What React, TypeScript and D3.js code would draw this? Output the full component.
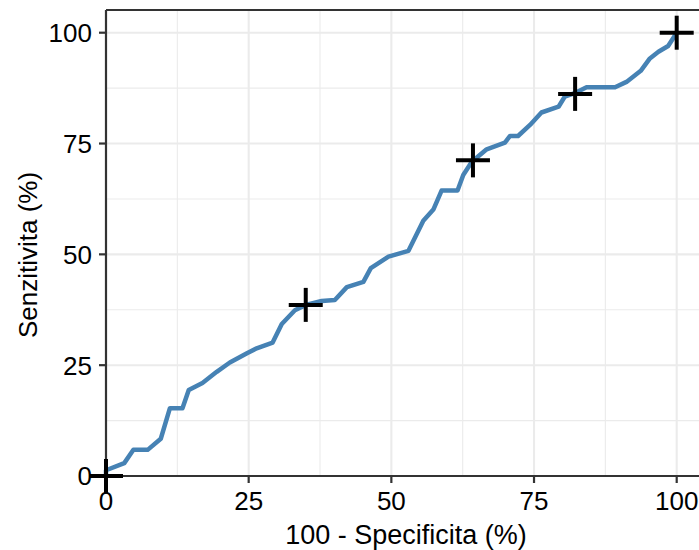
import React from "react";
import * as d3 from "d3";

const rocX = [0, 0, 3.2, 4.8, 7.3, 9.6, 11.2, 13.4, 14.5, 16.9, 19.4, 21.7, 24.7, 26.4, 29.2, 30.8, 33.1, 35.0, 37.8, 40.1, 42.2, 45.1, 46.4, 49.5, 53.0, 55.6, 57.4, 58.8, 61.6, 62.6, 64.1, 66.7, 69.9, 70.8, 72.2, 74.3, 76.3, 79.3, 80.4, 82.0, 84.2, 89.2, 91.2, 93.7, 95.3, 96.8, 98.5, 100];
const rocY = [0, 1.3, 2.9, 5.9, 5.9, 8.4, 15.3, 15.3, 19.4, 21.0, 23.5, 25.6, 27.7, 28.8, 30.1, 34.3, 37.4, 38.6, 39.5, 39.7, 42.6, 43.8, 46.9, 49.5, 50.8, 57.6, 60.2, 64.4, 64.4, 67.9, 70.9, 73.7, 75.2, 76.7, 76.7, 79.2, 82.0, 83.3, 85.6, 86.3, 87.7, 87.7, 88.9, 91.4, 94.2, 95.7, 97.0, 100];

const cutX = [0, 35.0, 64.3, 82.2, 100];
const cutY = [0, 38.6, 71.2, 86.2, 100];

const majorTicks = [0, 25, 50, 75, 100];
const minorTicks = [12.5, 37.5, 62.5, 87.5];

const xTitle = "100 - Specificita (%)";
const yTitle = "Senzitivita (%)";

export default function App() {
  const W = 699, H = 550;
  const left = 106, top = 10, bottom = 476, right = 705;
  const x = d3.scaleLinear().domain([0, 100]).range([left, 676.7]);
  const y = d3.scaleLinear().domain([0, 100]).range([bottom, 32.7]);
  const line = d3.line<number>().x((_, i) => x(rocX[i])).y((d) => y(d));
  const font = "'Liberation Sans', Arial, sans-serif";
  const arm = 17;
  return (
    <svg width={W} height={H} style={{ position: "absolute", left: 0, top: 0, display: "block", background: "#fff" }}>
      <rect x={0} y={0} width={W} height={H} fill="#fff" />
      {minorTicks.map((t) => (
        <g key={"mn" + t}>
          <line x1={x(t)} x2={x(t)} y1={top} y2={bottom} stroke="#ebebeb" strokeWidth={1.1} />
          <line x1={left} x2={right} y1={y(t)} y2={y(t)} stroke="#ebebeb" strokeWidth={1.1} />
        </g>
      ))}
      {majorTicks.map((t) => (
        <g key={"mj" + t}>
          <line x1={x(t)} x2={x(t)} y1={top} y2={bottom} stroke="#ebebeb" strokeWidth={2.1} />
          <line x1={left} x2={right} y1={y(t)} y2={y(t)} stroke="#ebebeb" strokeWidth={2.1} />
        </g>
      ))}
      <line x1={left} x2={right} y1={top} y2={top} stroke="#333" strokeWidth={2.2} />
      <line x1={left} x2={left} y1={top} y2={bottom} stroke="#333" strokeWidth={2.2} />
      <line x1={left} x2={right} y1={bottom} y2={bottom} stroke="#333" strokeWidth={2.2} />
      {majorTicks.map((t) => (
        <g key={"tk" + t}>
          <line x1={left - 7} x2={left} y1={y(t)} y2={y(t)} stroke="#333" strokeWidth={2.2} />
          <line x1={x(t)} x2={x(t)} y1={bottom} y2={bottom + 7} stroke="#333" strokeWidth={2.2} />
          <text x={92} y={y(t)} dy="0.36em" textAnchor="end" fontFamily={font} fontSize={26} fill="#000">{t}</text>
          <text x={x(t)} y={510} textAnchor="middle" fontFamily={font} fontSize={26} fill="#000">{t}</text>
        </g>
      ))}
      <path d={line(rocY) || ""} fill="none" stroke="#4682b4" strokeWidth={4.5} strokeLinejoin="round" strokeLinecap="butt" />
      {cutX.map((cx, i) => (
        <g key={"c" + i} stroke="#000" strokeWidth={4}>
          <line x1={x(cx) - arm} x2={x(cx) + arm} y1={y(cutY[i])} y2={y(cutY[i])} />
          <line x1={x(cx)} x2={x(cx)} y1={y(cutY[i]) - arm} y2={y(cutY[i]) + arm} />
        </g>
      ))}
      <text x={406} y={544} textAnchor="middle" fontFamily={font} fontSize={27} fill="#000">{xTitle}</text>
      <text transform="translate(37,255) rotate(-90)" textAnchor="middle" fontFamily={font} fontSize={26} fill="#000">{yTitle}</text>
    </svg>
  );
}
